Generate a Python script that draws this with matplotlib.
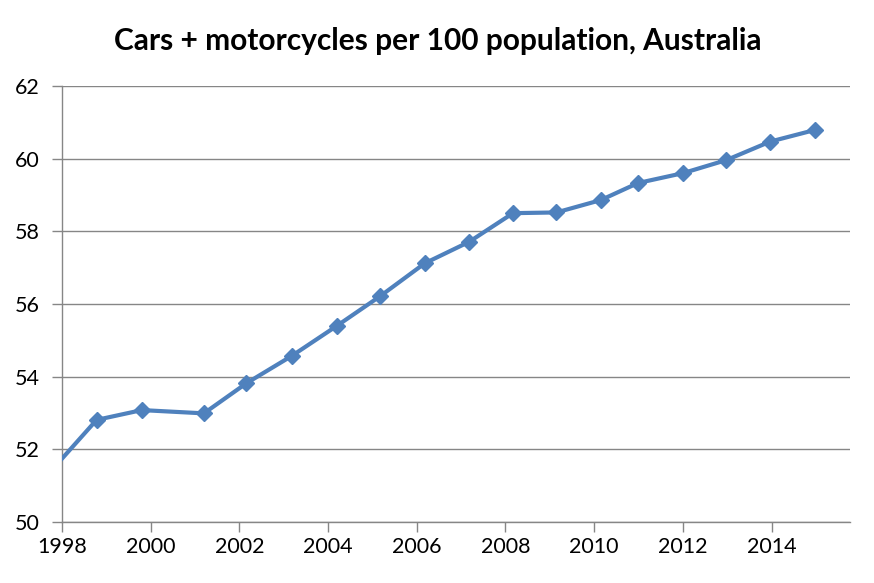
import matplotlib
matplotlib.use("Agg")
import matplotlib.pyplot as plt

years = [1997.8, 1998.78, 1999.80, 2001.20, 2002.16, 2003.18, 2004.20, 2005.18,
         2006.18, 2007.18, 2008.17, 2009.15, 2010.15, 2010.99, 2012.0, 2012.98,
         2013.97, 2014.98]
values = [51.47, 52.81, 53.08, 52.99, 53.82, 54.57, 55.40, 56.22, 57.12, 57.71,
          58.50, 58.52, 58.86, 59.33, 59.60, 59.96, 60.47, 60.79]
x_ticks = [1998, 2000, 2002, 2004, 2006, 2008, 2010, 2012, 2014]
y_ticks = [50, 52, 54, 56, 58, 60, 62]
title = "Cars + motorcycles per 100 population, Australia"

plt.rcParams['font.family'] = ['Lato', 'DejaVu Sans']

fig = plt.figure(figsize=(8.74, 5.83), dpi=100)
ax = fig.add_axes([62/874, 1-522/583, (850-62)/874, (522-86)/583])

gray = '#868686'
ax.plot(years, values, color='#4F81BD', lw=3, marker='D', markersize=8.5,
        markerfacecolor='#4F81BD', markeredgecolor='#4F81BD', zorder=3)

ax.set_xlim(1998, 2015.77)
ax.set_ylim(50, 62)
ax.set_xticks(x_ticks)
ax.set_xticklabels([str(t) for t in x_ticks])
ax.set_yticks(y_ticks)
ax.set_yticklabels([str(t) for t in y_ticks])
ax.yaxis.grid(True, color=gray, lw=1)
ax.set_axisbelow(True)
for s in ['top', 'right']:
    ax.spines[s].set_visible(False)
for s in ['left', 'bottom']:
    ax.spines[s].set_color(gray)
    ax.spines[s].set_linewidth(1)
ax.tick_params(axis='both', direction='out', length=7, width=1, color=gray,
               labelsize=15.5, labelcolor='black')
ax.tick_params(axis='x', pad=4)
ax.tick_params(axis='y', pad=9)

fig.text(438/874, 1-41/583, title, ha='center', va='center', fontsize=21.5,
         fontweight='bold', color='black')

fig.savefig('out.png', dpi=100)
